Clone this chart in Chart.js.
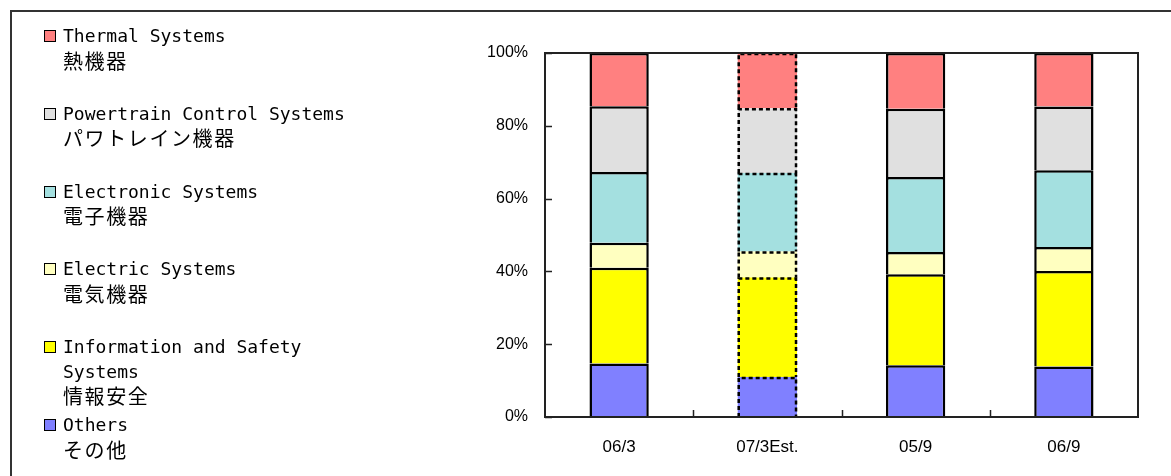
<!DOCTYPE html>
<html>
<head>
<meta charset="utf-8">
<script src="https://cdn.jsdelivr.net/npm/chart.js@4"></script>
<style>
  body { margin: 0; background: #fff; overflow: hidden; }
  #wrap { position: relative; width: 1171px; height: 476px; overflow: hidden; }
  #frame { position: absolute; left: 10px; top: 10px; width: 1200px; height: 500px; border: 2px solid #333; }
  #chartBox { position: absolute; left: 0; top: 0; width: 1171px; height: 476px; }
  #legend { position: absolute; left: 0; top: 0; }
  .item { position: absolute; left: 44px; width: 320px; }
  .mark { position: absolute; left: 0; top: 6px; width: 10px; height: 10px; border: 1.5px solid #000; }
  .txt { position: absolute; left: 19px; top: 0; width: 300px; line-height: 24.5px; color: #000; }
  .en { font-family: "DejaVu Sans Mono", monospace; font-size: 18px; }
  .ja { font-family: "Noto Sans CJK JP", sans-serif; font-size: 20px; letter-spacing: 1.6px; }
</style>
</head>
<body>
<div id="wrap">
  <div id="frame"></div>
  <div id="chartBox"><canvas id="mixChart"></canvas></div>
  <div id="legend"></div>
</div>
<script>
// categories (x axis)
const periods = ["06/3", "07/3Est.", "05/9", "06/9"];
const estimateIndex = 1;

// series, bottom of the stack first
const seriesEn = ["Others", "Information and Safety Systems", "Electric Systems", "Electronic Systems", "Powertrain Control Systems", "Thermal Systems"];
const seriesJa = ["その他", "情報安全", "電気機器", "電子機器", "パワトレイン機器", "熱機器"];
const seriesColors = ["#8080ff", "#ffff00", "#ffffc0", "#a4e0e0", "#e0e0e0", "#ff8080"];

// share of sales, %
const others     = [14.7, 11.0, 14.2, 13.9];
const infoSafety = [26.3, 27.3, 25.0, 26.2];
const electric   = [6.9, 7.2, 6.1, 6.6];
const electronic = [19.4, 21.5, 20.6, 21.1];
const powertrain = [18.1, 17.8, 18.8, 17.5];
const thermal    = [14.6, 15.2, 15.3, 14.7];
const seriesValues = [others, infoSafety, electric, electronic, powertrain, thermal];

// y axis ticks
const yMax = 100;
const yStep = 20;

// Legend (top item = top of the stack)
const legend = document.getElementById("legend");
for (let k = 0; k < seriesEn.length; k++) {
    const i = seriesEn.length - 1 - k;
    const item = document.createElement("div");
    item.className = "item";
    item.style.top = (24 + k * 77.8) + "px";
    item.innerHTML = `
        <span class="mark" style="background:${seriesColors[i]}"></span>
        <div class="txt"><div class="en">${seriesEn[i]}</div><div class="ja">${seriesJa[i]}</div></div>
    `;
    legend.appendChild(item);
}

// dashed outline for the estimate column, inner ticks and plot frame
const framePlugin = {
    id: "framePlugin",
    afterDraw(chart) {
        const ctx = chart.ctx;
        const area = chart.chartArea;
        const xs = chart.scales.x;
        const ys = chart.scales.y;

        ctx.save();
        ctx.strokeStyle = "#000";
        ctx.lineWidth = 2.5;
        ctx.setLineDash([4, 3]);
        chart.data.datasets.forEach((ds, d) => {
            const bar = chart.getDatasetMeta(d).data[estimateIndex];
            const p = bar.getProps(["x", "y", "base", "width"], true);
            const l = p.x - p.width / 2 + 1;
            const r = p.x + p.width / 2 - 1;
            ctx.beginPath();
            ctx.moveTo(l, p.base);
            ctx.lineTo(l, p.y + 1);
            ctx.lineTo(r, p.y + 1);
            ctx.lineTo(r, p.base);
            ctx.stroke();
        });
        ctx.setLineDash([]);

        // ticks pointing into the plot
        ctx.lineWidth = 1.5;
        ctx.strokeStyle = "#222";
        ctx.beginPath();
        ys.ticks.forEach((t, i) => {
            const py = Math.round(ys.getPixelForTick(i)) + 0.5;
            ctx.moveTo(area.left, py);
            ctx.lineTo(area.left + 7, py);
        });
        const half = (xs.getPixelForValue(1) - xs.getPixelForValue(0)) / 2;
        for (let i = 1; i < periods.length; i++) {
            const px = Math.round(xs.getPixelForValue(i) - half) + 0.5;
            ctx.moveTo(px, area.bottom);
            ctx.lineTo(px, area.bottom - 7);
        }
        ctx.stroke();

        ctx.lineWidth = 2;
        ctx.strokeStyle = "#222";
        ctx.strokeRect(area.left, area.top, area.right - area.left, area.bottom - area.top);
        ctx.restore();
    }
};

new Chart(document.getElementById("mixChart"), {
    type: "bar",
    data: {
        labels: periods,
        datasets: seriesValues.map((vals, i) => ({
            label: seriesEn[i],
            data: vals,
            backgroundColor: seriesColors[i],
            borderColor: "#000",
            borderWidth: periods.map((p, j) => j === estimateIndex ? 0 : 2.5),
            inflateAmount: 0,
            barPercentage: 0.4,
            categoryPercentage: 1
        }))
    },
    options: {
        responsive: true,
        maintainAspectRatio: false,
        animation: false,
        layout: { padding: { left: 440, top: 53, right: 33, bottom: 0 } },
        plugins: {
            legend: { display: false },
            tooltip: { enabled: false }
        },
        scales: {
            x: {
                stacked: true,
                grid: { display: false, drawTicks: false },
                border: { display: false },
                ticks: {
                    color: "#000",
                    padding: 20,
                    font: { family: "Liberation Sans", size: 17 }
                },
                afterFit(scale) { scale.height = 59; }
            },
            y: {
                stacked: true,
                min: 0,
                max: yMax,
                grid: { display: false, drawTicks: false },
                border: { display: false },
                ticks: {
                    stepSize: yStep,
                    color: "#000",
                    padding: 17,
                    font: { family: "Liberation Sans", size: 16 },
                    callback: v => v + "%"
                },
                afterFit(scale) { scale.width = 105; }
            }
        }
    },
    plugins: [framePlugin]
});
</script>
</body>
</html>
